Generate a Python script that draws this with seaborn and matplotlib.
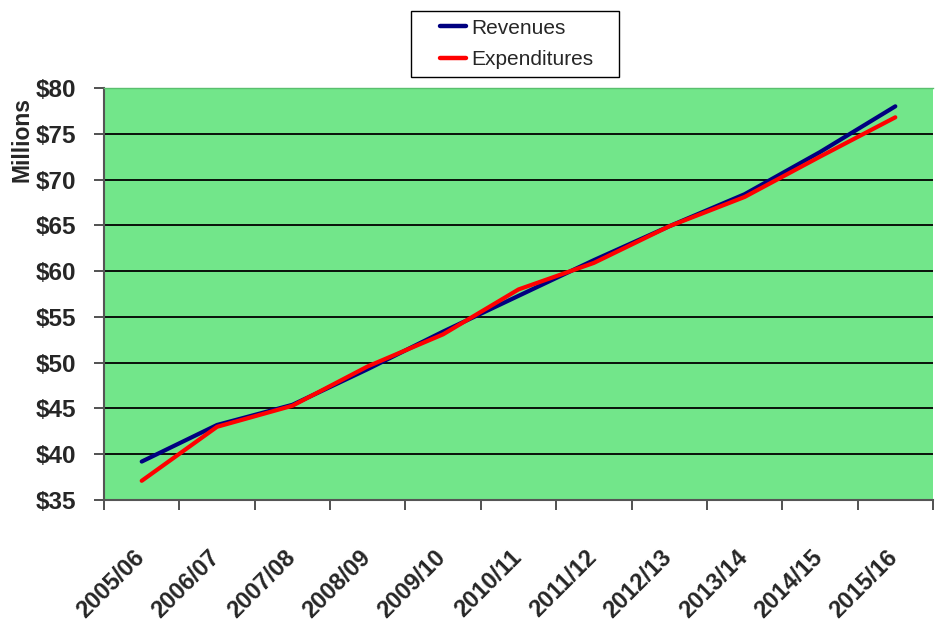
import matplotlib
matplotlib.use("Agg")
import matplotlib.pyplot as plt
import matplotlib.transforms as mtransforms
from matplotlib.patches import Rectangle
import seaborn as sns
import pandas as pd
import numpy as np

years = ["2005/06", "2006/07", "2007/08", "2008/09", "2009/10", "2010/11",
         "2011/12", "2012/13", "2013/14", "2014/15", "2015/16"]
revenues = [39.2, 43.2, 45.4, 49.3, 53.4, 57.3, 61.2, 64.9, 68.4, 73.0, 78.0]
expenditures = [37.1, 43.0, 45.3, 49.6, 53.1, 58.0, 60.9, 64.9, 68.1, 72.5, 76.8]
y_ticks = [35, 40, 45, 50, 55, 60, 65, 70, 75, 80]

sns.set_theme(style="white")
plt.rcParams['font.family'] = ["Liberation Sans", "DejaVu Sans"]

df = pd.DataFrame({
    "Year": years * 2,
    "Value": revenues + expenditures,
    "Series": ["Revenues"] * len(years) + ["Expenditures"] * len(years),
})
df["x"] = list(range(len(years))) * 2

fig = plt.figure(figsize=(9.39, 6.22), dpi=100)
ax = fig.add_axes([0.1108, 0.1961, 0.9936 - 0.1108, 0.8585 - 0.1961])
ax.set_facecolor("#72E68A")

sns.lineplot(data=df, x="x", y="Value", hue="Series",
             palette={"Revenues": "#000080", "Expenditures": "#FF0000"},
             linewidth=3.0, ax=ax, legend=True, solid_capstyle="round")

ax.set_xlim(-0.5, len(years) - 0.5)
ax.set_ylim(35, 80)
ax.set_yticks(y_ticks)
ax.set_yticklabels([f"${v}" for v in y_ticks], fontweight="bold", fontsize=17.5)
ax.yaxis.grid(True, color="black", linewidth=1.3)
for line in ax.get_ygridlines():
    line.set_zorder(1)
for l in ax.lines:
    l.set_zorder(3)

# x ticks: marks at category boundaries, labels at centers
ax.set_xticks(np.arange(-0.5, len(years), 1.0))
ax.set_xticklabels([])
ax.set_xticks(np.arange(len(years)), minor=True)
ax.set_xticklabels(years, minor=True, rotation=45, ha="right",
                   rotation_mode="anchor", fontweight="bold", fontsize=17)
ax.tick_params(axis="x", which="major", length=7, width=1.2, color="#333333",
               direction="out", bottom=True)
ax.tick_params(axis="x", which="minor", length=0, pad=33)
ax.tick_params(axis="y", which="major", length=7, width=1.2, color="#333333",
               direction="out", left=True, pad=13)
shift = mtransforms.ScaledTranslation(-9 / 100, 0, fig.dpi_scale_trans)
for lab in ax.get_xticklabels(minor=True):
    lab.set_transform(lab.get_transform() + shift)

ax.set_xlabel("")
ax.set_ylabel("")
fig.text(0.0234, 0.7765, "Millions", rotation=90, fontsize=16.5,
         fontweight="bold", ha="center", va="center")

for side in ["left", "bottom"]:
    ax.spines[side].set_color("#555555")
    ax.spines[side].set_linewidth(1.5)
ax.spines["top"].set_color("#5ABF6E")
ax.spines["top"].set_linewidth(1.0)
ax.spines["right"].set_visible(False)

handles, labels = ax.get_legend_handles_labels()
leg = ax.legend(handles, labels, loc="center",
                bbox_to_anchor=(517 / 939, 1 - 44 / 622),
                bbox_transform=fig.transFigure, frameon=False,
                fontsize=15, handlelength=1.25, handletextpad=0.25,
                borderpad=0.0, labelspacing=0.6)
for lh in leg.get_lines():
    lh.set_linewidth(3.2)
fig.patches.append(Rectangle((411 / 939, 1 - 77 / 622), 208 / 939, 66 / 622,
                             transform=fig.transFigure, fill=False,
                             edgecolor="black", linewidth=1.0))

fig.savefig("out.png", dpi=100, facecolor="white")
